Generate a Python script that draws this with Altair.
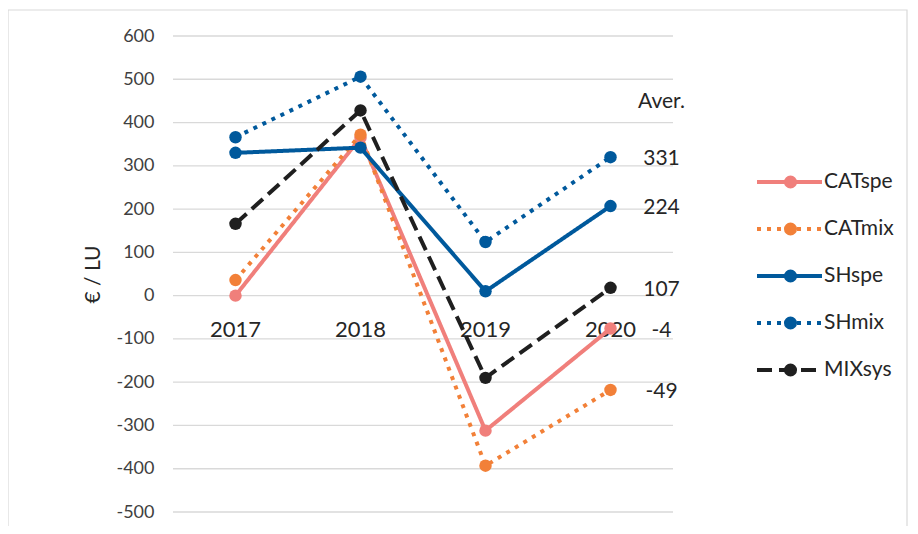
import altair as alt
import pandas as pd

years = ["2017", "2018", "2019", "2020"]
series = ["CATspe", "CATmix", "SHspe", "SHmix", "MIXsys"]
catspe = [0, 365, -312, -76]
catmix = [36, 372, -393, -218]
shspe = [330, 342, 10, 207]
shmix = [366, 506, 124, 320]
mixsys = [166, 428, -190, 18]
averages = ["-4", "-49", "224", "331", "107"]
aver_title = "Aver."
y_ticks = list(range(-500, 601, 100))

colors = ["#F07F7B", "#F28038", "#00599C", "#00599C", "#1F1F1F"]
dashes = [[1, 0], [4, 6], [1, 0], [4, 6], [15, 7]]
caps = ["round", "butt", "round", "butt", "butt"]

values = [catspe, catmix, shspe, shmix, mixsys]
rows = []
for s, vals in zip(series, values):
    for yr, v in zip(years, vals):
        rows.append({"series": s, "year": yr, "value": v})
df = pd.DataFrame(rows)

lab_df = pd.DataFrame({
    "series": series,
    "year": [years[-1]] * len(series),
    "value": [v[-1] for v in values],
    "label": averages,
})
year_df = pd.DataFrame({"year": years})
one_df = pd.DataFrame({"t": [aver_title]})

FONT = "Lato"
TXT = "#262626"
x_enc = alt.X("year:N", scale=alt.Scale(domain=years, paddingInner=0, paddingOuter=0), axis=None)
y_scale = alt.Scale(domain=[-500, 600], nice=False, zero=False)

LEG_Y = 136
line_legend = alt.Legend(
    title=None, orient="none", legendX=582, legendY=LEG_Y,
    symbolType="M-1,0L1,0", symbolSize=4225, symbolStrokeWidth=3.8,
    labelFont=FONT, labelFontSize=21, labelColor=TXT,
    labelOffset=0, rowPadding=26, clipHeight=20, zindex=1,
)
dot_legend = alt.Legend(
    title=None, orient="none", legendX=607, legendY=LEG_Y,
    symbolType="circle", symbolSize=170, symbolStrokeWidth=0,
    labelExpr="''", labelFont=FONT, labelFontSize=21,
    labelOffset=0, rowPadding=26, clipHeight=20, zindex=2,
)
color_scale = alt.Scale(domain=series, range=colors)
fill_scale = alt.Scale(domain=series + [" "], range=colors + ["transparent"])
dash_scale = alt.Scale(domain=series, range=dashes)

base = alt.Chart(df)

frame = alt.Chart(one_df).mark_rect(fill=None, stroke="#D9D9D9", strokeWidth=1.2).encode(
    x=alt.value(-165), x2=alt.value(734), y=alt.value(-26), y2=alt.value(600)
)

grid = alt.Chart(pd.DataFrame({"t": y_ticks})).mark_rule(color="#D9D9D9", strokeWidth=1.3).encode(
    y=alt.Y("t:Q", scale=y_scale,
            axis=alt.Axis(values=y_ticks, title="€ / LU", grid=False, domain=False, ticks=False,
                          labelExpr="toString(datum.value)",
                          labelPadding=19, labelFont=FONT, labelFontSize=18, labelColor="#404040",
                          titleFont=FONT, titleFontSize=21, titleFontWeight="normal", titleColor=TXT,
                          titleX=-80, titleY=238, titleAngle=-90, titleAlign="center",
                          titleBaseline="middle")),
    x=alt.value(0), x2=alt.value(500),
)

year_text = alt.Chart(year_df).mark_text(font=FONT, fontSize=22, color=TXT, dy=34).encode(
    x=x_enc, y=alt.datum(0, scale=y_scale), text="year:N"
)

layers = [frame, grid, year_text]
for i, s in enumerate(series):
    sub = base.transform_filter(alt.datum.series == s)
    line = sub.mark_line(strokeWidth=4, strokeCap=caps[i], strokeJoin="round").encode(
        x=x_enc,
        y=alt.Y("value:Q", scale=y_scale),
        color=alt.Color("series:N", scale=color_scale, legend=line_legend),
        strokeDash=alt.StrokeDash("series:N", scale=dash_scale, legend=line_legend),
    )
    pts = sub.mark_point(filled=True, size=155, opacity=1, strokeWidth=0).encode(
        x=x_enc, y=alt.Y("value:Q", scale=y_scale),
        fill=alt.Fill("series:N", scale=fill_scale, legend=dot_legend),
    )
    layers += [line, pts]

avg_text = alt.Chart(lab_df).mark_text(font=FONT, fontSize=21, color=TXT, dx=51, dy=2).encode(
    x=x_enc, y=alt.Y("value:Q", scale=y_scale), text="label:N"
)
aver = alt.Chart(one_df).mark_text(font=FONT, fontSize=21, color=TXT, dx=51).encode(
    x=alt.datum(years[-1]), y=alt.datum(447, scale=y_scale), text="t:N"
)
layers += [avg_text, aver]

chart = alt.layer(*layers).properties(
    width=500, height=476,
    background="white",
    autosize=alt.AutoSizeParams(type="none"),
    padding={"left": 165, "top": 28, "right": 237, "bottom": 14},
).configure_view(stroke=None, strokeWidth=0)

chart.save("out.html", embed_options={"renderer": "svg", "actions": False})
